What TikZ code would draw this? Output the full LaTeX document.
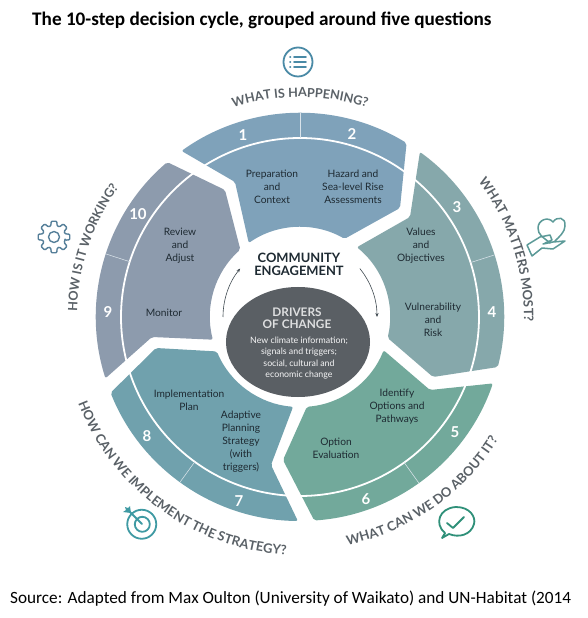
\documentclass[tikz,border=0pt]{standalone}
\usepackage{fontspec}
\setmainfont{Lato}
\newfontfamily\carlito{Carlito}
\usetikzlibrary{decorations.text,arrows.meta,shapes.geometric}
\definecolor{segblue}{HTML}{7FA2BA}
\definecolor{segsea}{HTML}{86A8AB}
\definecolor{seggreen}{HTML}{72A99B}
\definecolor{segteal}{HTML}{70A1AD}
\definecolor{seggrey}{HTML}{8D9BAD}
\definecolor{darkcore}{HTML}{5A5F64}
\definecolor{qgrey}{HTML}{5A6167}
\definecolor{inktext}{HTML}{1E2A32}
\definecolor{icolist}{HTML}{4A8AA6}
\definecolor{icoheart}{HTML}{5C9A98}
\definecolor{icocheck}{HTML}{2F9079}
\definecolor{icotarget}{HTML}{3F9AA3}
\definecolor{icogear}{HTML}{557F99}
\tikzset{
  seg/.style={rounded corners=2pt,draw=none},
  lab/.style={font=\fontsize{10.2}{13}\selectfont,align=center,text=inktext,inner sep=0pt},
  num/.style={font=\fontsize{15}{15}\selectfont\bfseries,text=white,inner sep=0pt},
  tick/.style={draw=white!70!segblue,line width=0.55pt},
  ico/.style={line width=1.8pt,line join=round,line cap=round,fill=none},
  flow/.style={draw=inktext!85!white,line width=0.6pt,-{Stealth[length=4pt,width=3.2pt]}},
  ask/.style={decorate,decoration={text along path,text align=center}},
}
\begin{document}
\begin{tikzpicture}[x=1pt,y=1pt]
\useasboundingbox (-300,317) rectangle (287,-301);
\fill[white] (-300,317) rectangle (287,-301);
% segments
\fill[segblue,seg] (125.5:204) arc[start angle=125.5,end angle=58.5,radius=204] -- (100,109) -- (60.3:90) arc[start angle=60.3,end angle=124.7,radius=90] -- (-65,135) -- cycle;
\fill[segsea,seg] (54:204) arc[start angle=54,end angle=-14.2,radius=204] -- (133,-60) -- (-13.4:90) arc[start angle=-13.4,end angle=50.8,radius=90] -- (110,100) -- cycle;
\fill[seggreen,seg] (-19:204) arc[start angle=-19,end angle=-86,radius=204] -- (-17,-143) -- (-85.6:90) arc[start angle=-85.6,end angle=-21.7,radius=90] -- (130,-73) -- cycle;
\fill[segteal,seg] (201.8:204) arc[start angle=201.8,end angle=269.4,radius=204] -- (-29,-148) -- (265.6:90) arc[start angle=265.6,end angle=202.5,radius=90] -- (-144,-31) -- cycle;
\fill[seggrey,seg] (130.6:204) arc[start angle=130.6,end angle=197.5,radius=204] -- (-148,-20) -- (194.6:90) arc[start angle=194.6,end angle=131.5,radius=90] -- (-75,127) -- cycle;
% dividing ring and ticks
\draw[white,line width=1.8pt] (0,0) circle[radius=179];
\foreach \a in {90,17.7,-54.4,234,162}{\draw[tick] (\a:179) -- (\a:204);}
% core
\node[ellipse,fill=darkcore,minimum width=144pt,minimum height=110pt,inner sep=0pt] (core) at (-2,-25) {};
\node[font=\fontsize{12.9}{13}\selectfont\bfseries,align=center,text=inktext,inner sep=0pt] (community) at (-1,53) {COMMUNITY\\ENGAGEMENT};
\node[font=\fontsize{11.8}{12.5}\selectfont\bfseries,align=center,text=white!80!darkcore,inner sep=0pt] (drivers) at (-3,-1) {DRIVERS\\OF CHANGE};
\node[font=\fontsize{8.8}{11.3}\selectfont,align=center,text=white!94!darkcore,inner sep=0pt] (newinfo) at (-1,-41) {New climate information;\\signals and triggers;\\social, cultural and\\economic change};
% flow arrows
\coordinate (fl1) at (180:77);
\coordinate (fr1) at (39:77);
\draw[flow] (fl1) arc[start angle=180,end angle=141,radius=77];
\draw[flow] (fr1) arc[start angle=39,end angle=0,radius=77];
% labels
\node[lab] (prep) at (-28,130) {Preparation\\and\\Context};
\node[lab] (hazard) at (53,130) {Hazard and\\Sea-level Rise\\Assessments};
\node[lab] (values) at (121,71) {Values\\and\\Objectives};
\node[lab] (vuln) at (133,-3) {Vulnerability\\and\\Risk};
\node[lab] (ident) at (97,-90) {Identify\\Options and\\Pathways};
\node[lab] (opt) at (36,-131) {Option\\Evaluation};
\node[lab] (impl) at (-111,-83) {Implementation\\Plan};
\node[lab] (adapt) at (-59,-125) {Adaptive\\Planning\\Strategy\\(with\\triggers)};
\node[lab] (review) at (-120,71) {Review\\and\\Adjust};
\node[lab] (monitor) at (-136,4) {Monitor};
% numbers
\node[num] (n1) at (-57,182) {1};
\node[num] (n2) at (52,183) {2};
\node[num] (n3) at (157,110) {3};
\node[num] (n4) at (192,5) {4};
\node[num] (n5) at (155,-115) {5};
\node[num] (n6) at (66,-182) {6};
\node[num] (n7) at (-61,-184) {7};
\node[num] (n8) at (-153,-119) {8};
\node[num] (n9) at (-192,5) {9};
\node[num] (n10) at (-162,103) {10};
% questions
\path[ask,decoration={text={|\fontsize{12.6}{13}\selectfont\bfseries\color{qgrey}|WHAT IS HAPPENING?}}] (110:220) arc[start angle=110,end angle=70,radius=220];
\path[ask,decoration={text={|\fontsize{13}{13}\selectfont\bfseries\color{qgrey}|WHAT MATTERS MOST?}}] (40:224) arc[start angle=40,end angle=-4,radius=224];
\path[ask,decoration={text={|\fontsize{13}{13}\selectfont\bfseries\color{qgrey}|WHAT CAN WE DO ABOUT IT?}}] (-85:233) arc[start angle=-85,end angle=-25,radius=233];
\path[ask,decoration={text={|\fontsize{13}{13}\selectfont\bfseries\color{qgrey}|HOW CAN WE IMPLEMENT THE STRATEGY?}}] (195:238) arc[start angle=195,end angle=273,radius=238];
\path[ask,decoration={text={|\fontsize{12.6}{13}\selectfont\bfseries\color{qgrey}|HOW IS IT WORKING?}}] (183:223) arc[start angle=183,end angle=140,radius=223];
% icon: list
\begin{scope}[shift={(-2,255)}]
\draw[ico,draw=icolist] (0,0) circle[radius=14.5];
\draw[ico,draw=icolist] (-4,5)--(8,5) (-4,0)--(8,0) (-4,-5)--(8,-5) (-8,5)--(-7.5,5) (-8,0)--(-7.5,0) (-8,-5)--(-7.5,-5);
\end{scope}
% icon: heart in hand
\draw[ico,draw=icoheart,line width=1.5pt] (250,74) .. controls (243,80) and (238,82) .. (238,89) .. controls (238,97) and (248,101) .. (253,95) .. controls (257,101) and (266,100) .. (265,91) .. controls (265,85) and (259,80) .. (255,76);
\draw[ico,draw=icoheart,line width=1.5pt] (227,72) -- (232,61) -- (242,69) -- (253,68) -- (265,76) -- (253,75) -- (243,73) (245,74) -- (252,77) -- (250,82) -- (240,80) -- (227,72);
% icon: speech bubble
\begin{scope}[shift={(156,-205)}]
\draw[ico,draw=icocheck] (-11,-11) .. controls (-22,-2) and (-17,14) .. (0,15) .. controls (14,15) and (20,5) .. (18,-2) .. controls (15,-13) and (3,-16) .. (-7,-12) -- (-14,-16) -- cycle;
\draw[ico,draw=icocheck] (-9,-1) -- (-3,-6) -- (8,5);
\end{scope}
% icon: target
\begin{scope}[shift={(-158,-207)}]
\draw[ico,draw=icotarget] (-10.5,10) arc[start angle=135,end angle=-225,radius=14.5];
\draw[ico,draw=icotarget] (-5,5) arc[start angle=135,end angle=-225,radius=7.5];
\draw[ico,draw=icotarget] (0,0) -- (-13,13);
\fill[icotarget] (-11,11) -- (-12,18) -- (-14,16) -- (-17,17) -- (-16,14) -- (-19,12) -- cycle;
\end{scope}
% icon: gear
\begin{scope}[shift={(-246,80)}]
\draw[ico,draw=icogear,line width=1.4pt,rounded corners=1pt] (-16:11.5) \foreach \a in {0,45,...,315}{ -- (\a-16:11.5) -- (\a-10:16) -- (\a+10:16) -- (\a+16:11.5) } -- cycle;
\draw[ico,draw=icogear,line width=1.4pt] (0,0) circle[radius=5.5];
\end{scope}
% title and source
\node[anchor=west,font=\carlito\fontsize{19.2}{19}\selectfont\bfseries,inner sep=0pt] (title) at (-268,297) {The 10-step decision cycle, grouped around five questions};
\node[anchor=west,font=\carlito\fontsize{17.2}{17}\selectfont,inner sep=0pt] (source) at (-290,-282) {Source: Adapted from Max Oulton (University of Waikato) and UN-Habitat (2014};
\end{tikzpicture}
\end{document}
